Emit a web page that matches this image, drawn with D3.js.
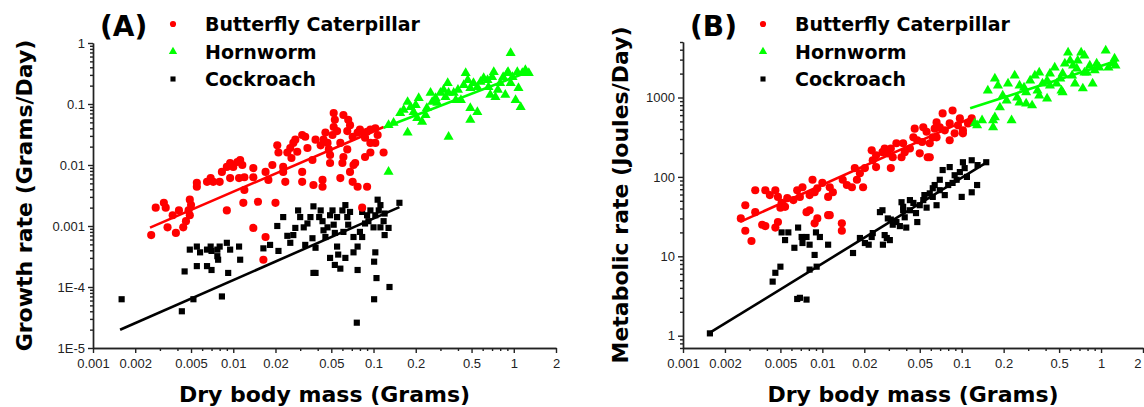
<!DOCTYPE html>
<html>
<head>
<meta charset="utf-8">
<title>Growth and metabolic rate vs dry body mass</title>
<script src="https://cdn.jsdelivr.net/npm/d3@7"></script>
<style>
  body { margin: 0; background: #fff; }
  svg { font-family: "DejaVu Sans", sans-serif; }
  .tick text { font-size: 13px; fill: #222; }
  .domain, .tick line { stroke: #222; stroke-width: 1.4px; }
  .axisTitle { font-weight: bold; font-size: 22px; fill: #000; }
  .panelLabel { font-weight: bold; font-size: 28px; fill: #000; }
  .legend text { font-weight: bold; font-size: 19px; fill: #000; }
</style>
</head>
<body>
<script>
// species and styling order used by both panels
var species = ["Butterfly Caterpillar", "Hornworm", "Cockroach"];
var speciesColors = ["#ff0000", "#00ff00", "#000000"];

// tick values / labels
var massTicks = [0.001, 0.002, 0.005, 0.01, 0.02, 0.05, 0.1, 0.2, 0.5, 1, 2];
var massTickLabels = ["0.001", "0.002", "0.005", "0.01", "0.02", "0.05", "0.1", "0.2", "0.5", "1", "2"];
var growthTicks = [1e-5, 1e-4, 1e-3, 0.01, 0.1, 1];
var growthTickLabels = ["1E-5", "1E-4", "0.001", "0.01", "0.1", "1"];
var metabolicTicks = [1, 10, 100, 1000];
var metabolicTickLabels = ["1", "10", "100", "1000"];

// (A) growth rate, [dry mass g, growth g/day]
var growthCaterpillar = [[0.0026,0.00071],[0.0028,0.002],[0.0032,0.0024],[0.0033,0.002],[0.0034,0.00095],[0.0037,0.0015],[0.0039,0.00077],[0.0041,0.0018],[0.0044,0.00095],[0.0046,0.0012],[0.0048,0.0018],[0.0049,0.0027],[0.0049,0.0015],[0.005,0.0022],[0.0055,0.0051],[0.0055,0.0044],[0.0065,0.0053],[0.0069,0.0061],[0.0072,0.0053],[0.008,0.0053],[0.0083,0.0077],[0.009,0.0093],[0.0095,0.0108],[0.01,0.0093],[0.0107,0.0112],[0.0112,0.0121],[0.0116,0.01],[0.0095,0.0061],[0.011,0.0061],[0.012,0.0063],[0.0139,0.0063],[0.0139,0.0089],[0.009,0.0018],[0.0118,0.0024],[0.012,0.0039],[0.0139,0.00093],[0.015,0.0025],[0.017,0.00066],[0.0164,0.00028],[0.017,0.0077],[0.0178,0.0057],[0.019,0.01],[0.02,0.0024],[0.0206,0.021],[0.021,0.016],[0.0227,0.0093],[0.0227,0.0077],[0.0235,0.0053],[0.0243,0.016],[0.0255,0.019],[0.0268,0.023],[0.0277,0.026],[0.0286,0.0165],[0.026,0.013],[0.031,0.031],[0.0326,0.029],[0.031,0.0077],[0.031,0.0053],[0.0338,0.019],[0.0367,0.0121],[0.0373,0.0047],[0.0386,0.026],[0.042,0.021],[0.044,0.026],[0.0454,0.034],[0.047,0.023],[0.048,0.018],[0.049,0.0146],[0.051,0.031],[0.052,0.042],[0.053,0.055],[0.052,0.071],[0.055,0.036],[0.0433,0.0057],[0.0433,0.0044],[0.049,0.0108],[0.058,0.023],[0.06,0.0108],[0.061,0.066],[0.066,0.055],[0.068,0.045],[0.065,0.036],[0.071,0.029],[0.065,0.018],[0.061,0.0135],[0.058,0.0061],[0.068,0.0077],[0.071,0.0053],[0.072,0.01],[0.077,0.034],[0.08,0.038],[0.084,0.034],[0.087,0.028],[0.09,0.035],[0.095,0.038],[0.095,0.023],[0.103,0.023],[0.107,0.031],[0.103,0.04],[0.087,0.0135],[0.095,0.016],[0.118,0.016],[0.077,0.0044],[0.09,0.0044],[0.083,0.002],[0.074,0.0108]];
var growthHornworm = [[0.128,0.045],[0.139,0.049],[0.128,0.0077],[0.155,0.071],[0.175,0.034],[0.175,0.108],[0.184,0.089],[0.193,0.074],[0.2,0.096],[0.21,0.125],[0.205,0.059],[0.222,0.051],[0.235,0.066],[0.255,0.152],[0.262,0.108],[0.277,0.125],[0.285,0.104],[0.3,0.152],[0.316,0.17],[0.338,0.221],[0.343,0.152],[0.343,0.029],[0.373,0.152],[0.4,0.17],[0.42,0.116],[0.44,0.205],[0.454,0.32],[0.47,0.247],[0.49,0.183],[0.49,0.086],[0.49,0.055],[0.55,0.074],[0.516,0.221],[0.55,0.19],[0.58,0.23],[0.61,0.267],[0.65,0.247],[0.66,0.19],[0.68,0.141],[0.7,0.277],[0.72,0.335],[0.74,0.13],[0.77,0.17],[0.8,0.221],[0.84,0.277],[0.9,0.32],[0.91,0.335],[0.87,0.141],[0.95,0.221],[0.98,0.277],[0.95,0.686],[1.03,0.116],[1.06,0.335],[1.12,0.089],[1.15,0.32],[1.21,0.36],[1.28,0.32],[1.08,0.183],[0.386,0.116],[0.326,0.13],[0.24,0.086],[0.164,0.08]];
var growthCockroach = [[0.0016,6.3e-5],[0.0043,4e-5],[0.0052,6.3e-5],[0.0045,1.8e-4],[0.0049,4.1e-4],[0.0055,4.6e-4],[0.0058,3.7e-4],[0.0065,4.1e-4],[0.0069,4.6e-4],[0.007,3.9e-4],[0.0077,4.1e-4],[0.008,4.6e-4],[0.009,5.3e-4],[0.0095,4.1e-4],[0.011,4.6e-4],[0.0055,2.2e-4],[0.0065,2.2e-4],[0.007,1.9e-4],[0.0077,3.2e-4],[0.0078,2.8e-4],[0.0092,1.7e-4],[0.0083,7e-5],[0.0112,2.8e-4],[0.0164,4.3e-4],[0.0183,4.9e-4],[0.0206,1e-3],[0.021,3.9e-4],[0.0227,1.4e-3],[0.0243,6.9e-4],[0.0268,7.1e-4],[0.0277,9.3e-4],[0.029,1.8e-3],[0.03,1.4e-3],[0.0318,9.5e-4],[0.0338,1.1e-3],[0.0355,1.4e-3],[0.0367,6.3e-4],[0.0373,2.1e-3],[0.0386,4.4e-4],[0.0373,1.7e-4],[0.042,1.8e-3],[0.0433,1.2e-3],[0.044,8.5e-4],[0.0454,6.6e-4],[0.047,9.5e-4],[0.049,1.5e-3],[0.051,1.8e-3],[0.052,1.05e-3],[0.053,7.7e-4],[0.055,1.4e-3],[0.055,4.6e-4],[0.056,3.4e-4],[0.06,1.8e-3],[0.061,8e-4],[0.065,1.4e-3],[0.066,1.05e-3],[0.068,1.7e-3],[0.072,6.6e-4],[0.077,4.6e-4],[0.08,8e-4],[0.083,6.6e-4],[0.087,1.1e-3],[0.09,1.5e-3],[0.092,1.2e-3],[0.095,1.8e-3],[0.1,9.5e-4],[0.103,1.5e-3],[0.107,2.7e-3],[0.109,1.8e-3],[0.112,9.5e-4],[0.118,1.2e-3],[0.12,1.6e-3],[0.128,9.3e-4],[0.153,2.4e-3],[0.103,3.7e-4],[0.101,2.6e-4],[0.105,1.4e-4],[0.101,6.3e-5],[0.13,1e-4],[0.076,2.6e-5],[0.049,3e-4],[0.053,2.3e-4],[0.058,2e-4],[0.063,3e-4],[0.072,3.7e-4],[0.077,1.9e-4],[0.0386,1.7e-4],[0.0326,4.9e-4],[0.041,1.4e-3],[0.063,2.2e-3],[0.083,1.7e-3],[0.112,2.2e-3],[0.12,7.1e-4],[0.0255,5.3e-4]];
// fitted power laws rate = a * mass^b, and the mass span of each fit line
var growthFitCoef = [[0.348, 0.99], [0.273, 0.89], [0.0136, 1.01]];
var growthFitRange = [[0.00255, 0.118], [0.118, 1.26], [0.00156, 0.153]];

// (B) metabolic rate, [dry mass g, metabolic J/day]
var metabolicCaterpillar = [[0.0026,30],[0.0028,44],[0.0028,21],[0.0031,15.6],[0.0033,68],[0.0039,68],[0.0033,36],[0.0037,25],[0.0039,24],[0.0046,68],[0.0048,56],[0.005,41],[0.0051,47],[0.0054,42],[0.0046,23],[0.0048,27],[0.0056,54],[0.0062,51],[0.0069,56],[0.0072,74],[0.0081,59],[0.0088,64],[0.0085,92],[0.0092,72],[0.01,84],[0.011,56],[0.0113,74],[0.0119,64],[0.0077,36],[0.0081,38],[0.0088,26],[0.0092,30],[0.011,33],[0.0113,33],[0.0138,26],[0.0138,21],[0.014,92],[0.015,79],[0.0163,74],[0.0177,92],[0.0196,74],[0.0186,111],[0.0171,129],[0.0202,129],[0.0226,216],[0.023,162],[0.0243,187],[0.0243,133],[0.027,205],[0.028,228],[0.0295,198],[0.031,228],[0.032,177],[0.034,265],[0.037,177],[0.038,265],[0.0425,228],[0.045,315],[0.046,405],[0.048,289],[0.05,198],[0.052,275],[0.053,421],[0.056,370],[0.059,265],[0.062,315],[0.064,405],[0.066,486],[0.057,177],[0.073,630],[0.082,472],[0.086,687],[0.097,545],[0.102,386],[0.118,545],[0.0696,421],[0.066,315],[0.082,289],[0.089,354],[0.102,354],[0.059,177],[0.0756,386],[0.111,472],[0.094,446],[0.0042,59],[0.0066,68],[0.031,129],[0.039,205]];
var metabolicHornworm = [[0.129,446],[0.14,515],[0.124,472],[0.154,1220],[0.168,515],[0.168,421],[0.173,561],[0.173,1730],[0.182,1410],[0.188,749],[0.197,1060],[0.21,917],[0.215,1500],[0.228,515],[0.24,1890],[0.25,1000],[0.26,865],[0.28,1330],[0.29,1160],[0.29,841],[0.32,794],[0.31,1630],[0.335,1890],[0.35,1220],[0.36,2060],[0.38,1500],[0.41,1630],[0.41,970],[0.43,2000],[0.465,2380],[0.48,1500],[0.52,1220],[0.53,1160],[0.53,2000],[0.55,2670],[0.58,3670],[0.6,2910],[0.63,2520],[0.67,2310],[0.65,1500],[0.68,2910],[0.72,3670],[0.76,3370],[0.74,1300],[0.79,2060],[0.83,2520],[0.87,1500],[0.93,2670],[0.97,2380],[1.08,3890],[1.13,2380],[1.21,2700],[1.25,3090],[1.27,2520],[0.26,1410],[0.43,1410],[0.51,1730],[0.36,1060],[0.62,1890],[0.9,2200],[0.76,2060]];
var metabolicCockroach = [[0.00156,1.07],[0.0044,4.8],[0.0046,6.2],[0.005,7.4],[0.0051,20],[0.0057,20],[0.0054,16],[0.0066,2.9],[0.0069,3.0],[0.0077,2.85],[0.0063,12.8],[0.0067,23],[0.0071,17.5],[0.0072,14.7],[0.0077,17.5],[0.0081,14],[0.0081,6.8],[0.0088,10.4],[0.0091,7.4],[0.009,20],[0.0096,17.5],[0.011,14],[0.0166,11],[0.0186,17],[0.0202,14.7],[0.0226,17.5],[0.023,19.6],[0.027,38],[0.0272,14],[0.028,18.5],[0.029,17],[0.0305,16],[0.0295,30],[0.031,29],[0.032,25],[0.034,27],[0.036,24],[0.038,38],[0.039,31],[0.04,23],[0.0425,38],[0.045,47],[0.047,35],[0.048,27],[0.05,44],[0.053,51],[0.056,41],[0.059,62],[0.062,56],[0.066,44],[0.0696,68],[0.073,122],[0.082,133],[0.102,153],[0.118,162],[0.15,153],[0.097,115],[0.092,92],[0.109,100],[0.129,79],[0.118,64],[0.0696,92],[0.062,72],[0.086,84],[0.1,56],[0.037,48],[0.038,42],[0.0425,51],[0.0756,59],[0.08,79],[0.089,105],[0.105,129],[0.13,141],[0.054,59],[0.064,79],[0.0259,36],[0.0215,14]];
var metabolicFitCoef = [[3017, 0.79], [2506, 0.57], [1172, 1.08]];
var metabolicFitRange = [[0.00257, 0.115], [0.115, 1.3], [0.00156, 0.152]];

var svg = d3.select("body").append("svg")
  .attr("width", 1144)
  .attr("height", 407);

var symbolTypes = [d3.symbolCircle, d3.symbolTriangle, d3.symbolSquare];
var symbolSizes = [52, 44, 38];
var legendSizes = [30, 30, 26];

// minor ticks: 1..9 times each decade, skipping the labelled values
function minorTicks(domain, majors) {
  var out = [];
  for (var e = Math.floor(Math.log10(domain[0])); e <= Math.ceil(Math.log10(domain[1])); e++) {
    for (var k = 1; k < 10; k++) {
      var v = +(k * Math.pow(10, e)).toPrecision(6);
      if (v >= domain[0] * 0.999 && v <= domain[1] * 1.001 &&
          !majors.some(function (m) { return Math.abs(m - v) / v < 1e-6; })) out.push(v);
    }
  }
  return out;
}

function drawPanel(p) {
  var x = d3.scaleLog().domain([0.001, 2]).range([p.left, p.right]);
  var y = d3.scaleLog().domain(p.yDomain).range([p.bottom, p.top]);
  var g = svg.append("g");

  // minor ticks first, then the labelled axis on top
  g.append("g")
    .attr("transform", "translate(0," + p.bottom + ")")
    .call(d3.axisBottom(x).tickValues(minorTicks(x.domain(), massTicks)).tickSize(3).tickSizeOuter(0).tickFormat(""));
  g.append("g")
    .attr("transform", "translate(" + p.left + ",0)")
    .call(d3.axisLeft(y).tickValues(minorTicks(y.domain(), p.yTicks)).tickSize(3).tickSizeOuter(0).tickFormat(""));

  var xAxis = g.append("g")
    .attr("transform", "translate(0," + p.bottom + ")")
    .call(d3.axisBottom(x).tickValues(massTicks).tickSize(5).tickSizeOuter(0).tickPadding(6)
      .tickFormat(function (d, i) { return massTickLabels[i]; }));
  // keep the last label inside the page when the axis runs to the edge
  if (p.right > 1130) {
    xAxis.selectAll(".tick").filter(function (d) { return d === 2; })
      .select("text").attr("text-anchor", "end").attr("dx", "-2px");
  }
  g.append("g")
    .attr("transform", "translate(" + p.left + ",0)")
    .call(d3.axisLeft(y).tickValues(p.yTicks).tickSize(5).tickSizeOuter(0).tickPadding(3)
      .tickFormat(function (d, i) { return p.yTickLabels[i]; }));

  // points: cockroach underneath, then caterpillar, then hornworm
  [2, 0, 1].forEach(function (s) {
    g.append("g").selectAll("path")
      .data(p.series[s])
      .enter().append("path")
      .attr("transform", function (d) { return "translate(" + x(d[0]) + "," + y(d[1]) + ")"; })
      .attr("d", d3.symbol().type(symbolTypes[s]).size(symbolSizes[s]))
      .attr("fill", speciesColors[s]);
  });

  // power-law fit lines (straight on log-log)
  var line = d3.line().x(function (d) { return x(d[0]); }).y(function (d) { return y(d[1]); });
  [2, 0, 1].forEach(function (s) {
    var c = p.fitCoef[s];
    var pts = p.fitRange[s].map(function (m) { return [m, c[0] * Math.pow(m, c[1])]; });
    g.append("path")
      .attr("d", line(pts))
      .attr("fill", "none")
      .attr("stroke", speciesColors[s])
      .attr("stroke-width", 2.6);
  });

  // titles
  g.append("text").attr("class", "axisTitle")
    .attr("x", (p.left + p.right) / 2).attr("y", 402)
    .attr("text-anchor", "middle")
    .text("Dry body mass (Grams)");
  g.append("text").attr("class", "axisTitle")
    .attr("transform", "translate(" + p.yTitleX + "," + ((p.top + p.bottom) / 2) + ") rotate(-90)")
    .attr("text-anchor", "middle")
    .text(p.yTitle);
  g.append("text").attr("class", "panelLabel")
    .attr("x", p.left + 7).attr("y", 36)
    .text(p.label);

  // legend
  var lg = g.append("g").attr("class", "legend");
  species.forEach(function (name, i) {
    var cy = 24 + i * 27.5;
    lg.append("path")
      .attr("transform", "translate(" + (p.left + 80) + "," + cy + ")")
      .attr("d", d3.symbol().type(symbolTypes[i]).size(legendSizes[i]))
      .attr("fill", speciesColors[i]);
    lg.append("text")
      .attr("x", p.left + 112).attr("y", cy + 7)
      .text(name);
  });
}

drawPanel({
  label: "(A)", left: 93, right: 556, top: 43, bottom: 348,
  yDomain: [1e-5, 1], yTicks: growthTicks, yTickLabels: growthTickLabels,
  yTitle: "Growth rate (Grams/Day)", yTitleX: 32,
  series: [growthCaterpillar, growthHornworm, growthCockroach],
  fitCoef: growthFitCoef, fitRange: growthFitRange
});

drawPanel({
  label: "(B)", left: 683, right: 1143, top: 42, bottom: 348,
  yDomain: [0.7, 5000], yTicks: metabolicTicks, yTickLabels: metabolicTickLabels,
  yTitle: "Metabolic rate (Joules/Day)", yTitleX: 628,
  series: [metabolicCaterpillar, metabolicHornworm, metabolicCockroach],
  fitCoef: metabolicFitCoef, fitRange: metabolicFitRange
});
</script>
</body>
</html>
